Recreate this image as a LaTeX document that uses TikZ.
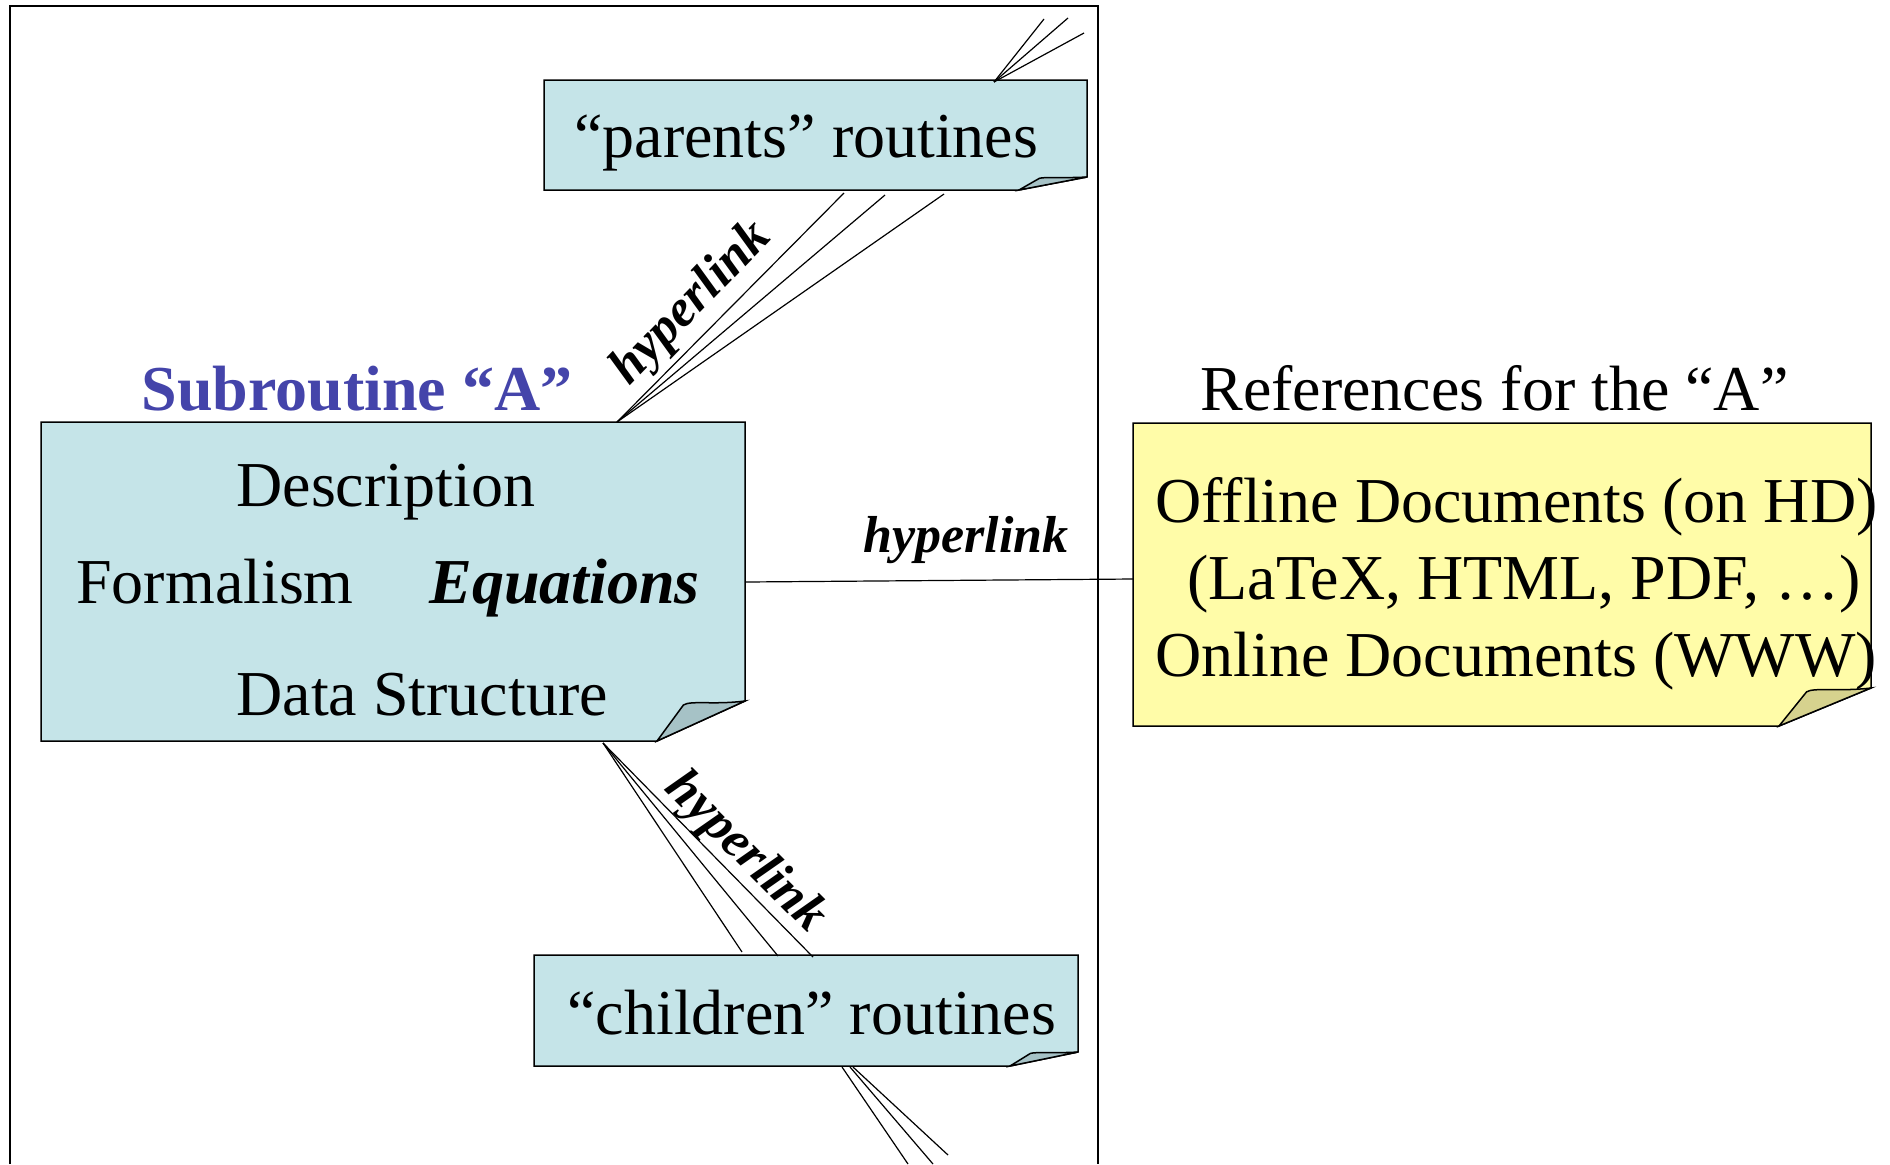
\documentclass[tikz,border=0pt]{standalone}
\usepackage{fontspec}
\setmainfont{Liberation Serif}
\usepackage{xcolor}
\usepackage{tikz}
\usetikzlibrary{calc}

\definecolor{cardblue}{RGB}{197,228,232}
\definecolor{flapblue}{RGB}{166,194,198}
\definecolor{cardyellow}{RGB}{255,252,168}
\definecolor{flapyellow}{RGB}{214,210,142}
\definecolor{titleblue}{RGB}{68,68,170}

% card with a folded bottom right corner: node, fill, flap fill, fold width, fold height
\newcommand{\foldcard}[5]{%
  \draw [line width=0.75pt, fill=#2] (#1.north west) -- (#1.north east) -- ($(#1.south east)+(0,-#5)$) -- ($(#1.south east)+(-#4,0)$) -- (#1.south west) -- cycle ;
  \draw [line width=0.75pt, fill=#3] ($(#1.south east)+(-#4,0)$) -- ($(#1.south east)+(-0.7*#4,-0.9*#5)$) .. controls ($(#1.south east)+(-0.62*#4,-1.02*#5)$) and ($(#1.south east)+(-0.35*#4,-0.9*#5)$) .. ($(#1.south east)+(0,-#5)$) -- cycle ;
}

\tikzset{
  card/.style={rectangle, inner sep=0pt, outer sep=0pt},
  txt/.style={anchor=base west, inner sep=0pt, font=\fontsize{32}{38}\selectfont},
  linklabel/.style={inner sep=0pt, font=\fontsize{26}{30}\selectfont\bfseries\itshape},
  wire/.style={line width=0.6pt},
}

\begin{document}
\begin{tikzpicture}[x=0.5pt,y=0.5pt,yscale=-1]
  \useasboundingbox (0,0) rectangle (1890,1164);

  %Frame
  \draw [line width=0.75pt] (10,1164) -- (10,6) -- (1098,6) -- (1098,1164) ;

  %Shapes: cards
  \node [card, minimum width=271.5pt, minimum height=55pt] (parents) at (815.5,135) {};
  \node [card, minimum width=352pt, minimum height=159.5pt] (sub) at (393,581.5) {};
  \node [card, minimum width=369pt, minimum height=151.5pt] (refs) at (1502,574.5) {};
  \node [card, minimum width=272pt, minimum height=55.5pt] (children) at (806,1010.5) {};
  \foldcard{parents}{cardblue}{flapblue}{68}{13}
  \foldcard{sub}{cardblue}{flapblue}{88}{40}
  \foldcard{refs}{cardyellow}{flapyellow}{92}{38}
  \foldcard{children}{cardblue}{flapblue}{68}{14}

  %Free ends of the outer links
  \coordinate (up1) at (1044,19);
  \coordinate (up2) at (1068,18);
  \coordinate (up3) at (1084,33);
  \coordinate (down1) at (908,1164);
  \coordinate (down2) at (933,1164);
  \coordinate (down3) at (948,1155);

  %Straight Lines
  \draw [wire] ($(parents.north west)+(450,2)$) -- (up1) ;
  \draw [wire] ($(parents.north west)+(450,2)$) -- (up2) ;
  \draw [wire] ($(parents.north west)+(450,2)$) -- (up3) ;
  \draw [wire] ($(sub.north west)+(576,0)$) -- ($(parents.south west)+(300,3)$) ;
  \draw [wire] ($(sub.north west)+(576,0)$) -- ($(parents.south west)+(341,5)$) ;
  \draw [wire] ($(sub.north west)+(576,0)$) -- ($(parents.south west)+(400,4)$) ;
  \draw [wire] ($(sub.east)+(0,0.5)$) -- ($(refs.west)+(0,4.5)$) ;
  \draw [wire] ($(sub.south west)+(562,2)$) -- ($(children.north west)+(208,-3)$) ;
  \draw [wire] ($(sub.south west)+(562,2)$) -- ($(children.north west)+(244,1)$) ;
  \draw [wire] ($(sub.south west)+(562,2)$) -- ($(children.north west)+(279,2)$) ;
  \draw [wire] ($(children.south west)+(308,1)$) -- (down1) ;
  \draw [wire] ($(children.south west)+(316,1)$) -- (down2) ;
  \draw [wire] ($(children.south west)+(319,1)$) -- (down3) ;

  % Text Node
  \draw (574,157) node [txt] (tparents) {“parents” routines};
  % Text Node
  \draw (357,410) node [anchor=base, inner sep=0pt, font=\fontsize{32}{38}\selectfont\bfseries, text=titleblue] (tsub) {Subroutine “A”};
  % Text Node
  \draw (236,506) node [txt] (tdesc) {Description};
  % Text Node
  \draw (76,603) node [txt] (tform) {Formalism};
  % Text Node
  \draw (429,603) node [txt, font=\fontsize{32}{38}\selectfont\bfseries\itshape] (teq) {Equations};
  % Text Node
  \draw (236,715) node [txt] (tdata) {Data Structure};
  % Text Node
  \draw (1200,410) node [txt] (trefs) {References for the “A”};
  % Text Node
  \draw (1155,522) node [txt] (toff) {Offline Documents (on HD)};
  % Text Node
  \draw (1187,599) node [txt] (tfmt) {(LaTeX, HTML, PDF, …)};
  % Text Node
  \draw (1155,676) node [txt] (ton) {Online Documents (WWW)};
  % Text Node
  \draw (567,1034) node [txt] (tchildren) {“children” routines};
  % Text Node
  \draw (692,304) node [linklabel, rotate=46] (lup) {hyperlink};
  % Text Node
  \draw (863,552) node [linklabel, anchor=base west] (lright) {hyperlink};
  % Text Node
  \draw (745,853) node [linklabel, rotate=-45] (ldown) {hyperlink};

\end{tikzpicture}
\end{document}
